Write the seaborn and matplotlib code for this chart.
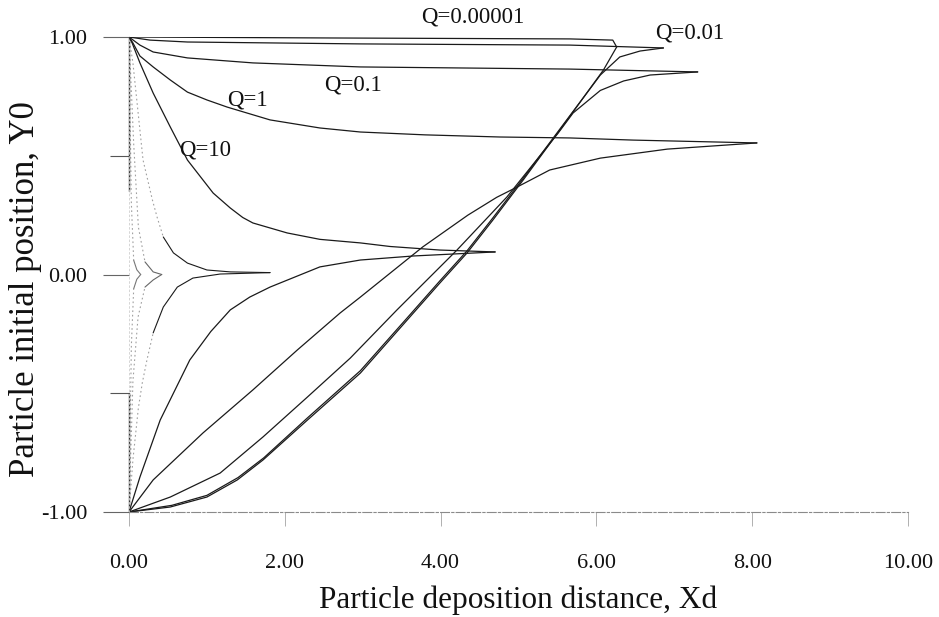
import numpy as np
import pandas as pd
import matplotlib
matplotlib.use("Agg")
import matplotlib.pyplot as plt
import seaborn as sns

# ---- deposition curves: each Q has an upper branch (Y0 from +1) and a lower branch (Y0 from -1)
q1e5_up_x = [0.0, 2.58, 5.66, 6.21, 6.26]
q1e5_up_y = [1.0, 0.996, 0.992, 0.987, 0.958]
q1e5_lo_x = [0.0, 0.53, 1.00, 1.39, 1.72, 2.29, 2.97, 3.57, 3.99, 4.34, 4.67, 5.06, 5.53, 6.09, 6.26]
q1e5_lo_y = [-1.0, -0.979, -0.937, -0.865, -0.781, -0.613, -0.415, -0.192, -0.036, 0.091, 0.229, 0.398, 0.608, 0.861, 0.958]

q001_up_x = [0.0, 0.27, 0.75, 2.97, 5.66, 6.86]
q001_up_y = [1.0, 0.987, 0.979, 0.971, 0.966, 0.954]
q001_lo_x = [0.0, 0.55, 1.00, 1.40, 1.73, 2.29, 2.97, 3.57, 3.99, 4.34, 4.67, 5.06, 5.53, 6.05, 6.30, 6.56, 6.86]
q001_lo_y = [-1.0, -0.972, -0.930, -0.855, -0.772, -0.604, -0.405, -0.183, -0.027, 0.100, 0.238, 0.405, 0.612, 0.840, 0.916, 0.941, 0.954]

q01_up_x = [0.0, 0.14, 0.31, 0.75, 1.59, 2.97, 5.66, 7.30]
q01_up_y = [1.0, 0.966, 0.937, 0.912, 0.891, 0.874, 0.865, 0.853]
q01_lo_x = [0.0, 0.53, 1.17, 1.72, 2.29, 2.84, 3.44, 4.21, 4.85, 5.51, 5.70, 6.05, 6.35, 6.69, 7.30]
q01_lo_y = [-1.0, -0.937, -0.836, -0.684, -0.516, -0.352, -0.149, 0.103, 0.326, 0.596, 0.680, 0.775, 0.815, 0.840, 0.853]

q1_up_x = [0.0, 0.05, 0.14, 0.31, 0.53, 0.75, 1.00, 1.26, 1.81, 2.45, 2.97, 3.80, 4.76, 5.66, 6.47, 8.06]
q1_up_y = [1.0, 0.975, 0.920, 0.874, 0.819, 0.768, 0.735, 0.705, 0.651, 0.617, 0.600, 0.588, 0.579, 0.575, 0.566, 0.554]
q1_lo_x = [0.0, 0.31, 0.95, 1.59, 2.16, 2.71, 2.97, 3.77, 4.35, 4.72, 4.98, 5.40, 6.05, 6.91, 8.06]
q1_lo_y = [-1.0, -0.865, -0.667, -0.486, -0.318, -0.162, -0.095, 0.116, 0.250, 0.325, 0.368, 0.440, 0.490, 0.528, 0.554]

q10_up_x = [0.0, 0.04, 0.14, 0.31, 0.53, 0.75, 1.08, 1.30, 1.46, 1.59, 2.03, 2.45, 2.97, 3.35, 3.99, 4.70]
q10_up_y = [1.0, 0.975, 0.891, 0.764, 0.621, 0.482, 0.343, 0.280, 0.240, 0.217, 0.175, 0.148, 0.133, 0.118, 0.103, 0.095]
q10_lo_x = [0.0, 0.14, 0.40, 0.78, 1.05, 1.30, 1.55, 1.81, 2.45, 2.97, 3.65, 4.70]
q10_lo_y = [-1.0, -0.853, -0.613, -0.360, -0.240, -0.149, -0.095, -0.053, 0.032, 0.061, 0.078, 0.095]

q100_up_x = [0.0, 0.05, 0.18, 0.30, 0.36, 0.44, 0.57, 0.75, 1.00, 1.30, 1.81]
q100_up_y = [1.0, 0.891, 0.482, 0.314, 0.242, 0.158, 0.091, 0.048, 0.019, 0.011, 0.008]
q100_lo_x = [0.0, 0.05, 0.12, 0.17, 0.23, 0.31, 0.44, 0.62, 0.82, 1.17, 1.81]
q100_lo_y = [-1.0, -0.780, -0.562, -0.457, -0.360, -0.246, -0.137, -0.053, -0.015, 0.002, 0.008]

q1e3_up_x = [0.0, 0.06, 0.12, 0.205, 0.31, 0.42]
q1e3_up_y = [1.0, 0.55, 0.20, 0.053, 0.011, 0.0]
q1e3_lo_x = [0.0, 0.05, 0.116, 0.205, 0.31, 0.42]
q1e3_lo_y = [-1.0, -0.45, -0.179, -0.053, -0.023, 0.0]

q1e4_up_x = [0.0, 0.03, 0.06, 0.10, 0.15]
q1e4_up_y = [1.0, 0.30, 0.06, 0.02, 0.0]
q1e4_lo_x = [0.0, 0.03, 0.06, 0.10, 0.15]
q1e4_lo_y = [-1.0, -0.30, -0.06, -0.02, 0.0]

q_labels = ["Q=0.00001", "Q=0.01", "Q=0.1", "Q=1", "Q=10"]
label_x = [4.41, 7.20, 2.87, 1.52, 0.98]
label_y = [1.084, 1.017, 0.798, 0.735, 0.524]

x_ticks = [0, 2, 4, 6, 8, 10]
x_ticklabels = ["0.00", "2.00", "4.00", "6.00", "8.00", "10.00"]
y_ticks = [-1, 0, 1]
y_ticklabels = ["-1.00", "0.00", "1.00"]
y_minor = [-0.5, 0.5]

# branches: (x, y, number of leading points drawn faint, line colour)
branches = [
    (q1e5_up_x, q1e5_up_y, 0, "#1a1a1a"), (q1e5_lo_x, q1e5_lo_y, 0, "#1a1a1a"),
    (q001_up_x, q001_up_y, 0, "#1a1a1a"), (q001_lo_x, q001_lo_y, 0, "#1a1a1a"),
    (q01_up_x, q01_up_y, 0, "#1a1a1a"), (q01_lo_x, q01_lo_y, 0, "#1a1a1a"),
    (q1_up_x, q1_up_y, 0, "#1a1a1a"), (q1_lo_x, q1_lo_y, 0, "#1a1a1a"),
    (q10_up_x, q10_up_y, 0, "#1a1a1a"), (q10_lo_x, q10_lo_y, 0, "#1a1a1a"),
    (q100_up_x, q100_up_y, 5, "#1a1a1a"), (q100_lo_x, q100_lo_y, 5, "#1a1a1a"),
    (q1e3_up_x, q1e3_up_y, 3, "#666666"), (q1e3_lo_x, q1e3_lo_y, 3, "#666666"),
    (q1e4_up_x, q1e4_up_y, 2, "#777777"), (q1e4_lo_x, q1e4_lo_y, 2, "#777777"),
]

sns.set_theme(style="white")
plt.rcParams["font.family"] = ["Liberation Serif", "DejaVu Serif"]

fig = plt.figure(figsize=(9.39, 6.17), dpi=100)
ax = fig.add_axes([0.1374, 0.1702, 0.8296, 0.7698])

for bx, by, nfaint, col in branches:
    df = pd.DataFrame({"Xd": bx, "Y0": by})
    if nfaint > 0:
        sns.lineplot(data=df.iloc[:nfaint + 1], x="Xd", y="Y0", sort=False, ax=ax,
                     color="#a0a0a0", linewidth=0.8, linestyle=(0, (1.5, 2.5)))
        sns.lineplot(data=df.iloc[nfaint:], x="Xd", y="Y0", sort=False, ax=ax,
                     color=col, linewidth=0.8)
    else:
        sns.lineplot(data=df, x="Xd", y="Y0", sort=False, ax=ax,
                     color=col, linewidth=0.9)

for txt, lx, ly in zip(q_labels, label_x, label_y):
    ax.text(lx, ly, txt, fontsize=16.5, ha="center", va="center", color="#111111",
            clip_on=False)

ax.set_xlim(0, 10)
ax.set_ylim(-1, 1)
ax.set_xticks(x_ticks)
ax.set_xticklabels(x_ticklabels)
ax.set_yticks(y_ticks)
ax.set_yticklabels(y_ticklabels)
ax.set_yticks(y_minor, minor=True)

ax.tick_params(axis="x", which="major", direction="out", length=10, width=0.7,
               color="#b0b0b0", pad=20, labelsize=16, labelcolor="#111111", bottom=True)
ax.tick_params(axis="y", which="major", direction="out", length=19, width=0.8,
               color="#666666", pad=11, labelsize=16, labelcolor="#111111", left=True)
ax.tick_params(axis="y", which="minor", direction="out", length=14, width=0.8,
               color="#555555", left=True)

for side in ["top", "right"]:
    ax.spines[side].set_visible(False)
ax.spines["bottom"].set_color("#8a8a8a")
ax.spines["bottom"].set_linewidth(0.8)
ax.spines["bottom"].set_linestyle((0, (8, 2, 2, 2)))
ax.spines["left"].set_color("#cfcfcf")
ax.spines["left"].set_linewidth(0.6)
ax.spines["left"].set_linestyle((0, (2, 3)))
# darker parts of the left axis line
ax.axvline(0, ymin=0.675, ymax=1.0, color="#333333", linewidth=1.0, clip_on=False)
ax.axvline(0, ymin=0.0, ymax=0.25, color="#333333", linewidth=1.0, clip_on=False)

ax.set_xlabel("Particle deposition distance, Xd", fontsize=22.5, color="#111111", labelpad=9)
ax.set_ylabel("Particle initial position, Y0", fontsize=25, color="#111111")
ax.yaxis.set_label_coords(-0.112, 0.47)

fig.savefig("out.png", dpi=100, facecolor="white")
